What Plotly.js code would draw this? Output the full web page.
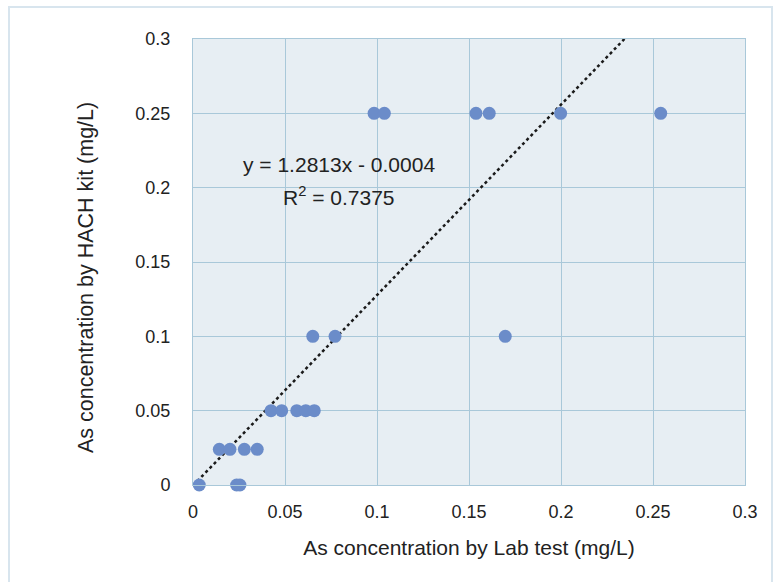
<!DOCTYPE html>
<html>
<head>
<meta charset="utf-8">
<script src="https://cdn.plot.ly/plotly-3.0.1.min.js"></script>
<style>
html,body{margin:0;padding:0;background:#fff;}
#wrap{position:relative;width:776px;height:582px;overflow:hidden;}
#chart{width:776px;height:582px;}
#frame{position:absolute;left:8px;top:6px;width:765px;height:600px;border:2px solid #d8e5ee;box-sizing:border-box;pointer-events:none;}
</style>
</head>
<body>
<div id="wrap"><div id="chart"></div><div id="frame"></div></div>
<script>
// Data
var labTest = [0.0034, 0.0237, 0.0255,
               0.0143, 0.0201, 0.0279, 0.0349,
               0.0424, 0.0482, 0.0564, 0.0613, 0.0659,
               0.0651, 0.0772, 0.1697,
               0.0984, 0.1040, 0.1538, 0.1610, 0.1998, 0.2542];
var hachKit = [0, 0, 0,
               0.024, 0.024, 0.024, 0.024,
               0.05, 0.05, 0.05, 0.05, 0.05,
               0.1, 0.1, 0.1,
               0.25, 0.25, 0.25, 0.25, 0.25, 0.25];
var slope = 1.2813;
var intercept = -0.0004;
var rSquared = 0.7375;
var trendX = [0, 0.2345];
var tickVals = [0, 0.05, 0.1, 0.15, 0.2, 0.25, 0.3];
var tickText = ["0", "0.05", "0.1", "0.15", "0.2", "0.25", "0.3"];
var xTitle = 'As concentration by Lab test (mg/L)';
var yTitle = 'As concentration by HACH kit (mg/L)';

var trendY = trendX.map(function(x){ return slope * x + intercept; });
var FONT = 'Liberation Sans, Arial, sans-serif';

var traces = [
  {
    x: trendX, y: trendY, type: 'scatter', mode: 'lines',
    line: {color: '#1a1a1a', width: 2.5, dash: 'dot'},
    hoverinfo: 'skip', showlegend: false
  },
  {
    x: labTest, y: hachKit, type: 'scatter', mode: 'markers',
    marker: {color: '#6b8cc9', size: 13},
    showlegend: false, cliponaxis: false
  }
];

var axisCommon = {
  range: [0, 0.3], tickvals: tickVals, ticktext: tickText,
  showgrid: true, gridcolor: '#a9c8d9', gridwidth: 1,
  zeroline: false, showline: true, linecolor: '#a9c8d9', linewidth: 1, mirror: true,
  ticks: '', tickfont: {family: FONT, size: 18, color: '#222'},
  fixedrange: true
};

var xaxis = Object.assign({}, axisCommon, {
  title: {text: xTitle, font: {family: FONT, size: 21, color: '#222'}, standoff: 19},
  ticklabelstandoff: 10
});
var yaxis = Object.assign({}, axisCommon, {
  ticklabelstandoff: 18
});

var layout = {
  width: 776, height: 582,
  margin: {l: 193, r: 31, t: 39, b: 97},
  paper_bgcolor: '#ffffff',
  plot_bgcolor: '#e7eef3',
  xaxis: xaxis, yaxis: yaxis,
  showlegend: false,
  annotations: [
    {x: -0.194, y: 0.466, xref: 'paper', yref: 'paper', text: yTitle, textangle: -90,
     xanchor: 'center', yanchor: 'middle', showarrow: false,
     font: {family: FONT, size: 21.5, color: '#222'}},
    {x: 0.0793, y: 0.2153, xref: 'x', yref: 'y', text: 'y = ' + slope + 'x - ' + Math.abs(intercept).toFixed(4),
     showarrow: false, font: {family: FONT, size: 21, color: '#222'}},
    {x: 0.0793, y: 0.1944, xref: 'x', yref: 'y', text: 'R<sup>2</sup> = ' + rSquared,
     showarrow: false, font: {family: FONT, size: 21, color: '#222'}}
  ]
};

Plotly.newPlot('chart', traces, layout, {displayModeBar: false, staticPlot: true});
</script>
</body>
</html>
